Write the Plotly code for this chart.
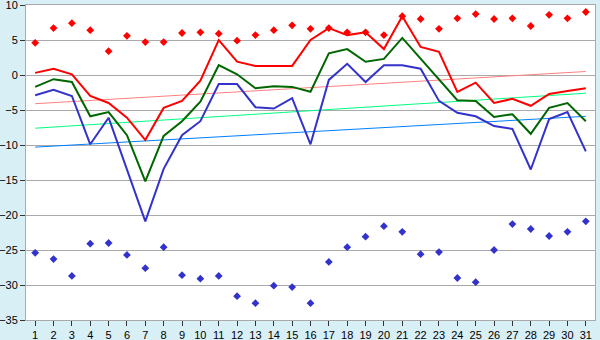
import plotly.graph_objects as go

days = list(range(1, 32))

abs_max = [4.6, 6.7, 7.4, 6.4, 3.4, 5.6, 4.7, 4.7, 6.0, 6.1, 5.9, 4.9, 5.7, 6.4, 7.1,
           6.6, 6.7, 6.1, 6.1, 5.7, 8.4, 8.0, 6.6, 8.1, 8.7, 8.0, 8.1, 7.0, 8.6, 8.1, 9.0]
abs_min = [-25.4, -26.3, -28.7, -24.1, -24.0, -25.7, -27.6, -24.6, -28.6, -29.1, -28.7,
           -31.6, -32.6, -30.1, -30.3, -32.6, -26.7, -24.6, -23.1, -21.6, -22.4, -25.6,
           -25.3, -29.0, -29.6, -25.0, -21.3, -22.0, -23.0, -22.4, -20.9]
t_max = [0.3, 0.9, 0.1, -3.0, -4.0, -6.1, -9.3, -4.7, -3.7, -0.8, 5.0, 1.9, 1.3, 1.3, 1.3,
         5.0, 6.7, 5.7, 6.1, 3.7, 8.4, 4.0, 3.3, -2.4, -1.1, -4.0, -3.4, -4.4, -2.7, -2.3, -1.9]
t_mean = [-1.7, -0.6, -1.0, -5.9, -5.3, -8.6, -15.2, -8.7, -6.6, -3.8, 1.4, 0.1, -1.9,
          -1.6, -1.7, -2.4, 3.1, 3.7, 1.9, 2.3, 5.3, 2.3, -0.6, -3.6, -3.7, -6.0, -5.6,
          -8.4, -4.7, -4.0, -6.6]
t_min = [-2.9, -2.1, -3.0, -9.9, -6.1, -13.5, -20.9, -13.4, -8.6, -6.6, -1.3, -1.3, -4.6,
         -4.8, -3.3, -9.9, -0.7, 1.6, -1.0, 1.4, 1.4, 0.9, -3.7, -5.4, -5.9, -7.3, -7.7,
         -13.5, -6.3, -5.3, -10.9]

trend_days = [1, 31]
trend_max = [-4.1, 0.5]
trend_mean = [-7.6, -2.6]
trend_min = [-10.3, -5.9]

fig = go.Figure()
for y, c in [(trend_max, "#FF8080"), (trend_mean, "#00FF80"), (trend_min, "#0080FF")]:
    fig.add_trace(go.Scatter(x=trend_days, y=y, mode="lines",
                             line=dict(color=c, width=1), showlegend=False, hoverinfo="skip"))
for y, c in [(t_max, "#FF0000"), (t_mean, "#006600"), (t_min, "#3333CC")]:
    fig.add_trace(go.Scatter(x=days, y=y, mode="lines",
                             line=dict(color=c, width=2), showlegend=False))
fig.add_trace(go.Scatter(x=days, y=abs_max, mode="markers",
                         marker=dict(symbol="diamond", size=6, color="#FF0000"), showlegend=False))
fig.add_trace(go.Scatter(x=days, y=abs_min, mode="markers",
                         marker=dict(symbol="diamond", size=6, color="#3333CC"), showlegend=False))

fig.update_layout(
    width=600, height=340,
    margin=dict(l=26, r=5, t=5, b=20, autoexpand=False),
    paper_bgcolor="#D9EFF6",
    plot_bgcolor="#FFFFFF",
    font=dict(family="Liberation Sans, Arial, sans-serif", size=11, color="#000000"),
    showlegend=False,
)
fig.update_xaxes(range=[0.5, 31.5], tickvals=days, ticktext=[str(d) for d in days],
                 ticks="outside", ticklen=5, tickcolor="#333333", showgrid=False,
                 showline=True, linecolor="#AAAAAA", linewidth=1, mirror=True,
                 zeroline=False, fixedrange=True, automargin=False, tickangle=0,
                 ticklabeloverflow="allow")
fig.update_yaxes(range=[-35, 10], dtick=5, ticks="outside", ticklen=5, tickcolor="#333333",
                 showgrid=True, gridcolor="#AAAAAA", gridwidth=1,
                 showline=True, linecolor="#AAAAAA", linewidth=1, mirror=True,
                 zeroline=False, fixedrange=True, tickformat="d", automargin=False,
                 ticklabeloverflow="allow")

fig.write_html("out.html", config={"displayModeBar": False},
               post_script="document.body.style.margin='0';document.body.style.background='#D9EFF6';")
